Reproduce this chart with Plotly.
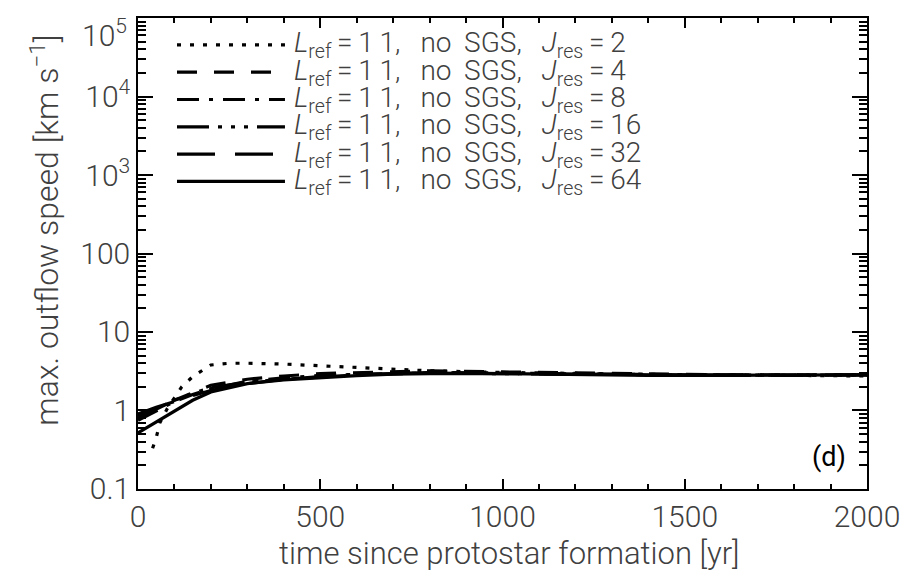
import plotly.graph_objects as go

# ---------------- data ----------------
t_j2 = [40, 50, 60, 80, 100, 120, 150, 180, 200, 250, 300, 400, 500, 600, 700, 800, 1000, 1200, 1500, 1800, 2000]
v_j2 = [0.33, 0.45, 0.7, 1.05, 1.45, 2.0, 2.7, 3.3, 3.8, 4.0, 4.0, 3.9, 3.7, 3.5, 3.35, 3.2, 3.05, 2.95, 2.85, 2.8, 2.75]

t_com = [0, 50, 100, 150, 200, 300, 400, 500, 600, 700, 800, 1000, 1200, 1400, 1600, 1800, 2000]
v_j4 = [0.85, 1.05, 1.35, 1.7, 2.1, 2.5, 2.75, 2.95, 3.05, 3.15, 3.2, 3.1, 3.0, 2.9, 2.85, 2.85, 2.85]
v_j8 = [0.75, 1.0, 1.3, 1.6, 1.9, 2.35, 2.6, 2.8, 2.9, 3.0, 3.05, 3.0, 2.9, 2.85, 2.8, 2.8, 2.85]
v_j16 = [0.8, 1.05, 1.35, 1.65, 1.95, 2.3, 2.5, 2.7, 2.85, 2.95, 3.0, 2.95, 2.9, 2.85, 2.8, 2.8, 2.85]
v_j32 = [0.9, 1.1, 1.3, 1.55, 1.8, 2.2, 2.5, 2.7, 2.85, 2.95, 3.0, 2.95, 2.9, 2.85, 2.8, 2.8, 2.85]
v_j64 = [0.52, 0.72, 0.98, 1.35, 1.72, 2.2, 2.45, 2.62, 2.78, 2.9, 2.95, 2.95, 2.85, 2.8, 2.8, 2.8, 2.85]

jres = [2, 4, 8, 16, 32, 64]
series_t = [t_j2, t_com, t_com, t_com, t_com, t_com]
series_v = [v_j2, v_j4, v_j8, v_j16, v_j32, v_j64]

y_tickvals = [0.1, 1, 10, 100, 1e3, 1e4, 1e5]
y_ticktext = ["0.1", "1", "10", "100", "10<sup>3</sup>", "10<sup>4</sup>", "10<sup>5</sup>"]
x_tickvals = [0, 500, 1000, 1500, 2000]

x_title = "time since protostar formation [yr]"
y_title = "max. outflow speed [km s<sup>\u22121</sup>]"
panel_label = "(d)"

# ---------------- styles ----------------
dashes = ["4px,9px", "20px,17px", "22px,10px,4px,10px",
          "32px,9px,4px,9px,4px,9px,4px,9px", "38px,20px", "solid"]
LW = 3.2
FONT = "Roboto, DejaVu Sans, sans-serif"
TXT = "#404040"
WT = 300

def fnt(size, color=TXT, weight=WT):
    return dict(size=size, family=FONT, color=color, weight=weight)

fig = go.Figure()
for t, v, d, j in zip(series_t, series_v, dashes, jres):
    fig.add_trace(go.Scatter(x=t, y=v, mode="lines",
                             line=dict(color="black", width=LW, dash=d),
                             showlegend=False, name=f"J={j}"))

y_minor = [k * 10.0 ** n for n in range(-1, 5) for k in range(2, 10)]

# the top label (last tick) is drawn separately, a little lower so it is not cut off
axis_ticktext = y_ticktext[:-1] + [""]

# page body has an 8px default margin -> compensate so the plot box sits at 138..867 x 18..489
fig.update_layout(
    width=919, height=578,
    margin=dict(l=130, r=60, t=10, b=97),
    paper_bgcolor="white", plot_bgcolor="white",
    font=fnt(28),
    xaxis=dict(range=[0, 2000], tickmode="array", tickvals=x_tickvals,
               ticks="inside", ticklen=10, tickwidth=1.5, tickcolor="black",
               showline=True, linecolor="black", linewidth=1.5, mirror="ticks",
               showgrid=False, zeroline=False, automargin=False,
               ticklabeloverflow="allow",
               minor=dict(ticks="inside", ticklen=5, tickwidth=1.5, tickcolor="black",
                          dtick=100, showgrid=False),
               tickfont=fnt(30)),
    yaxis=dict(type="log", range=[-1.0002, 5.0002], tickmode="array",
               tickvals=y_tickvals, ticktext=axis_ticktext,
               ticks="inside", ticklen=15, tickwidth=1.5, tickcolor="black",
               showline=True, linecolor="black", linewidth=1.5, mirror="ticks",
               showgrid=False, zeroline=False, automargin=False,
               ticklabeloverflow="allow",
               minor=dict(ticks="inside", ticklen=8, tickwidth=1.5, tickcolor="black",
                          tickmode="array", tickvals=y_minor, showgrid=False),
               tickfont=fnt(30)),
)

fig.add_annotation(xref="paper", yref="paper", x=-0.0125, y=1.0,
                   xanchor="right", yanchor="top", yshift=6, showarrow=False,
                   text=y_ticktext[-1], font=fnt(30))

# axis titles
fig.add_annotation(xref="paper", yref="paper", x=0.51, y=-0.136,
                   xanchor="center", yanchor="middle", showarrow=False,
                   text=x_title, font=fnt(31))
fig.add_annotation(xref="paper", yref="paper", x=-0.128, y=0.55,
                   xanchor="center", yanchor="middle", showarrow=False, textangle=-90,
                   text=y_title, font=fnt(32))

# legend drawn manually (IDL style)
row_y = [0.943, 0.885, 0.827, 0.769, 0.711, 0.653]
for d, j, yy in zip(dashes, jres, row_y):
    fig.add_shape(type="line", xref="paper", yref="paper",
                  x0=0.0535, x1=0.2016, y0=yy, y1=yy,
                  line=dict(color="black", width=LW, dash=d))
    fig.add_annotation(xref="paper", yref="paper", x=0.211, y=yy,
                       xanchor="left", yanchor="middle", showarrow=False,
                       text=(f"<i>L</i><sub>ref</sub>\u2009=\u20091\u20091,\u2002\u2009no\u2009 SGS,"
                             f"\u2002\u2009<i>J</i><sub>res</sub>\u2009=\u2009{j}"),
                       font=fnt(28))

fig.add_annotation(xref="paper", yref="paper", x=0.948, y=0.068,
                   xanchor="center", yanchor="middle", showarrow=False,
                   text=panel_label, font=fnt(27, color="black", weight=400))

fig.write_html("out.html")
